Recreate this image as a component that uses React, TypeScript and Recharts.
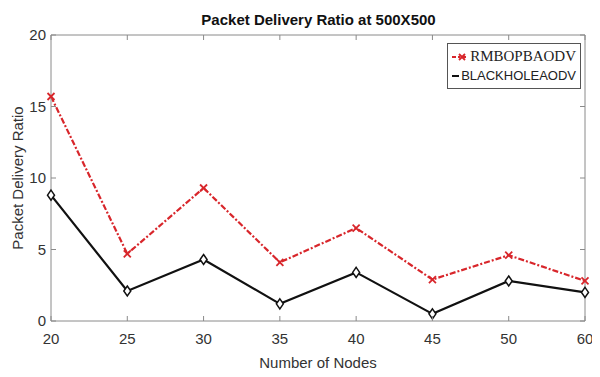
import { LineChart, Line, XAxis, YAxis } from "recharts";

const NODES = ["20", "25", "30", "35", "40", "45", "50", "60"];
const RMBOPBAODV = [15.7, 4.7, 9.3, 4.1, 6.5, 2.9, 4.6, 2.8];
const BLACKHOLEAODV = [8.8, 2.1, 4.3, 1.2, 3.4, 0.5, 2.8, 2.0];
const Y_TICKS = [0, 5, 10, 15, 20];

const RED = "#d8262b";
const BLACK = "#111111";
const AXIS = "#8a8a8a";
const TEXT = "#333333";
const SANS = '"Liberation Sans", Arial, sans-serif';

const data = NODES.map((n, i) => ({
  nodes: n,
  rm: RMBOPBAODV[i],
  bh: BLACKHOLEAODV[i],
}));

// MATLAB-style inward ticks
const BottomTick = (p: any) => (
  <g>
    <line x1={p.x} x2={p.x} y1={p.y} y2={p.y - 5} stroke={AXIS} />
    <text x={p.x} y={p.y + 23} textAnchor="middle" fill={TEXT} fontSize={15} fontFamily={SANS}>
      {p.payload.value}
    </text>
  </g>
);
const TopTick = (p: any) => (
  <line x1={p.x} x2={p.x} y1={p.y} y2={p.y + 5} stroke={AXIS} />
);
const LeftTick = (p: any) => (
  <g>
    <line x1={p.x} x2={p.x + 5} y1={p.y} y2={p.y} stroke={AXIS} />
    <text x={p.x - 5} y={p.y + 5} textAnchor="end" fill={TEXT} fontSize={15} fontFamily={SANS}>
      {p.payload.value}
    </text>
  </g>
);
const RightTick = (p: any) => (
  <line x1={p.x} x2={p.x - 5} y1={p.y} y2={p.y} stroke={AXIS} />
);

const Cross = (p: any) => {
  const { cx, cy } = p;
  if (cx == null || cy == null) return null;
  const s = 3.5;
  return (
    <g key={`x-${p.index}`}>
      <line x1={cx - s} y1={cy - s} x2={cx + s} y2={cy + s} stroke={RED} strokeWidth={1.8} />
      <line x1={cx - s} y1={cy + s} x2={cx + s} y2={cy - s} stroke={RED} strokeWidth={1.8} />
    </g>
  );
};
const Diamond = (p: any) => {
  const { cx, cy } = p;
  if (cx == null || cy == null) return null;
  return (
    <path
      key={`d-${p.index}`}
      d={`M${cx},${cy - 5} L${cx + 3.5},${cy} L${cx},${cy + 5} L${cx - 3.5},${cy} Z`}
      fill="#ffffff"
      stroke={BLACK}
      strokeWidth={1.5}
    />
  );
};

const LegendBox = () => (
  <div
    style={{
      position: "absolute",
      top: 43,
      left: 447,
      width: 124,
      border: "1px solid #555",
      background: "#fff",
      padding: "3px 4px 3px 4px",
      lineHeight: "19px",
    }}
  >
    <div style={{ display: "flex", alignItems: "center" }}>
      <svg width={20} height={12}>
        <line x1={0} x2={20} y1={6} y2={6} stroke={RED} strokeWidth={2} strokeDasharray="4 2 2 2" />
        <line x1={7} y1={3} x2={13} y2={9} stroke={RED} strokeWidth={1.8} />
        <line x1={7} y1={9} x2={13} y2={3} stroke={RED} strokeWidth={1.8} />
      </svg>
      <span style={{ fontFamily: '"Liberation Serif", serif', fontSize: 15, color: "#222", marginLeft: 3 }}>
        RMBOPBAODV
      </span>
    </div>
    <div style={{ display: "flex", alignItems: "center" }}>
      <svg width={20} height={12}>
        <line x1={0} x2={20} y1={6} y2={6} stroke={BLACK} strokeWidth={2} />
        <path d="M10,2 L13,6 L10,10 L7,6 Z" fill="#fff" stroke={BLACK} strokeWidth={1.4} />
      </svg>
      <span style={{ fontFamily: SANS, fontSize: 13, color: "#222", marginLeft: 2 }}>
        BLACKHOLEAODV
      </span>
    </div>
  </div>
);

export default function App() {
  return (
    <div style={{ position: "relative", margin: -8, width: 600, height: 377, background: "#fff" }}>
      <div
        style={{
          position: "absolute",
          top: 11,
          left: 51,
          width: 535,
          textAlign: "center",
          fontFamily: SANS,
          fontWeight: "bold",
          fontSize: 15,
          color: "#111",
        }}
      >
        Packet Delivery Ratio at 500X500
      </div>
      <LineChart width={600} height={377} data={data} margin={{ top: 34, right: 14, left: 0, bottom: 0 }}>
        <XAxis
          dataKey="nodes"
          height={56}
          stroke={AXIS}
          tickLine={false}
          tickSize={0}
          tickMargin={0}
          tick={BottomTick}
          interval={0}
          label={(lp: any) => {
            const vb = lp.viewBox;
            return (
              <text x={vb.x + vb.width / 2} y={vb.y + 47} textAnchor="middle" fill={TEXT} fontSize={15} fontFamily={SANS}>
                Number of Nodes
              </text>
            );
          }}
        />
        <XAxis
          xAxisId="top"
          dataKey="nodes"
          orientation="top"
          height={1}
          stroke={AXIS}
          tickLine={false}
          tickSize={0}
          tickMargin={0}
          tick={TopTick}
          interval={0}
        />
        <YAxis
          width={51}
          domain={[0, 20]}
          ticks={Y_TICKS}
          stroke={AXIS}
          tickLine={false}
          tickSize={0}
          tickMargin={0}
          tick={LeftTick}
          interval={0}
          label={(lp: any) => {
            const vb = lp.viewBox;
            const cy = vb.y + vb.height / 2;
            return (
              <text
                x={23}
                y={cy}
                transform={`rotate(-90, 23, ${cy})`}
                textAnchor="middle"
                fill={TEXT}
                fontSize={15}
                fontFamily={SANS}
              >
                Packet Delivery Ratio
              </text>
            );
          }}
        />
        <YAxis
          yAxisId="right"
          orientation="right"
          width={1}
          domain={[0, 20]}
          ticks={Y_TICKS}
          stroke={AXIS}
          tickLine={false}
          tickSize={0}
          tickMargin={0}
          tick={RightTick}
          interval={0}
        />
        {/* invisible series so the top / right frame axes get drawn */}
        <Line
          xAxisId="top"
          yAxisId="right"
          dataKey="rm"
          stroke="none"
          dot={false}
          activeDot={false}
          legendType="none"
          isAnimationActive={false}
        />
        <Line
          type="linear"
          dataKey="rm"
          name="RMBOPBAODV"
          stroke={RED}
          strokeWidth={2.2}
          strokeDasharray="6 2 2 2"
          dot={Cross}
          isAnimationActive={false}
        />
        <Line
          type="linear"
          dataKey="bh"
          name="BLACKHOLEAODV"
          stroke={BLACK}
          strokeWidth={2.2}
          dot={Diamond}
          isAnimationActive={false}
        />
      </LineChart>
      <LegendBox />
    </div>
  );
}
